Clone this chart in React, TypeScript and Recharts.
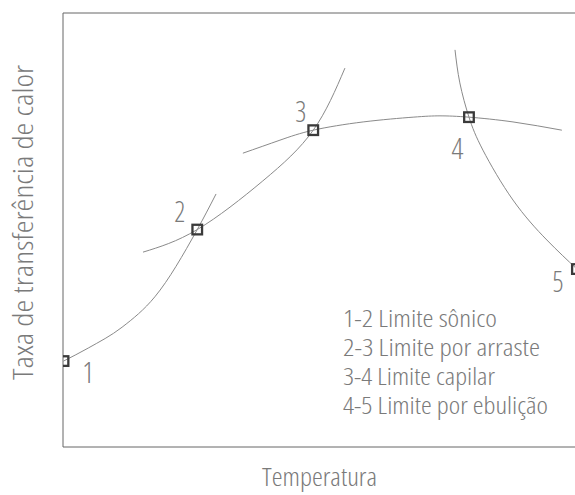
import React from 'react';
import { ComposedChart, Line, Scatter, XAxis, YAxis, ReferenceLine, Label } from 'recharts';

// Curves (x: temperature, y: heat transfer rate, arbitrary units 0-100)
const sonicLimit = [
  { x: 0.1, y: 19.8 }, { x: 4.7, y: 22.8 }, { x: 11.0, y: 27.6 }, { x: 17.1, y: 34.6 },
  { x: 25.0, y: 50.1 }, { x: 28.5, y: 58.3 },
];
const dragLimit = [
  { x: 14.9, y: 44.9 }, { x: 25.0, y: 50.1 }, { x: 37.2, y: 61.3 },
  { x: 46.6, y: 73.0 }, { x: 52.5, y: 87.3 },
];
const capillaryLimit = [
  { x: 33.5, y: 67.7 }, { x: 40.4, y: 70.7 }, { x: 46.6, y: 73.0 }, { x: 55.9, y: 74.9 },
  { x: 65.2, y: 76.0 }, { x: 70.2, y: 76.3 }, { x: 75.6, y: 76.0 }, { x: 83.8, y: 74.9 },
  { x: 92.9, y: 73.0 },
];
const boilingLimit = [
  { x: 73.0, y: 91.5 }, { x: 73.9, y: 83.9 }, { x: 75.6, y: 76.0 }, { x: 78.2, y: 68.4 },
  { x: 83.8, y: 56.9 }, { x: 90.1, y: 47.7 }, { x: 95.7, y: 41.0 },
];
const keyPoints = [
  { x: 0.1, y: 19.8, name: '1' },
  { x: 25.0, y: 50.1, name: '2' },
  { x: 46.6, y: 73.0, name: '3' },
  { x: 75.6, y: 76.0, name: '4' },
  { x: 95.7, y: 41.0, name: '5' },
];
const legendLines = [
  '1-2 Limite sônico',
  '2-3 Limite por arraste',
  '3-4 Limite capilar',
  '4-5 Limite por ebulição',
];
const xLabel = 'Temperatura';
const yLabel = 'Taxa de transferência de calor';

// styling
const FONT = "'Open Sans', sans-serif";
const TEXT_COLOR = '#7a7a7a';
const CURVE_COLOR = '#8a8a8a';
const AXIS_COLOR = '#666';
const labelOffsets: Record<string, { dx: number; dy: number; w?: number }> = {
  '1': { dx: 24.5, dy: 22 },
  '2': { dx: -17.5, dy: -8, w: 11 },
  '3': { dx: -12.5, dy: -8, w: 11 },
  '4': { dx: -11.5, dy: 42, w: 12 },
  '5': { dx: -19, dy: 23, w: 11 },
};
const legendWidths = [154, 197, 152, 205];
const legendBaselines = [327, 356, 385, 414];
const textStyle = { fontStretch: 'condensed' } as React.CSSProperties;

const PointShape = (props: any) => {
  const { cx, cy, payload } = props;
  const off = labelOffsets[payload.name];
  return (
    <g>
      <rect x={cx - 4.8} y={cy - 4.8} width={9.6} height={9.6} fill="none" stroke="#3a3a3a" strokeWidth={2.3} />
      <text
        x={cx + off.dx}
        y={cy + off.dy}
        textAnchor="middle"
        fontFamily={FONT}
        fontWeight={300}
        fontSize={29}
        fill={TEXT_COLOR}
        style={textStyle}
        {...(off.w ? { textLength: off.w, lengthAdjust: 'spacingAndGlyphs' } : {})}
      >
        {payload.name}
      </text>
    </g>
  );
};

export default function App() {
  return (
    <div style={{ position: 'fixed', left: 0, top: 0, width: 575, height: 495, overflow: 'hidden', background: '#fff' }}>
      <ComposedChart width={628} height={495} margin={{ top: 13, right: 28, left: 0, bottom: 0 }}>
        <XAxis
          type="number"
          dataKey="x"
          domain={[0, 100]}
          allowDataOverflow
          tick={false}
          tickLine={false}
          height={48}
          axisLine={{ stroke: AXIS_COLOR, strokeWidth: 1 }}
        >
          <Label
            content={() => (
              <text
                x={319.5}
                y={486}
                textAnchor="middle"
                fontFamily={FONT}
                fontWeight={300}
                fontSize={25}
                fill={TEXT_COLOR}
                style={textStyle}
                textLength={115}
                lengthAdjust="spacingAndGlyphs"
              >
                {xLabel}
              </text>
            )}
          />
        </XAxis>
        <YAxis
          type="number"
          dataKey="y"
          domain={[0, 100]}
          allowDataOverflow
          tick={false}
          tickLine={false}
          width={63}
          axisLine={{ stroke: AXIS_COLOR, strokeWidth: 1 }}
        >
          <Label
            content={() => (
              <text
                x={33}
                y={222.5}
                transform="rotate(-90, 33, 222.5)"
                textAnchor="middle"
                fontFamily={FONT}
                fontWeight={300}
                fontSize={28}
                fill={TEXT_COLOR}
                style={textStyle}
                textLength={315}
                lengthAdjust="spacingAndGlyphs"
              >
                {yLabel}
              </text>
            )}
          />
        </YAxis>
        <ReferenceLine y={100} stroke={AXIS_COLOR} strokeWidth={1} />
        <Line data={sonicLimit} dataKey="y" type="monotone" stroke={CURVE_COLOR} strokeWidth={1} dot={false} activeDot={false} isAnimationActive={false} />
        <Line data={dragLimit} dataKey="y" type="natural" stroke={CURVE_COLOR} strokeWidth={1} dot={false} activeDot={false} isAnimationActive={false} />
        <Line data={capillaryLimit} dataKey="y" type="natural" stroke={CURVE_COLOR} strokeWidth={1} dot={false} activeDot={false} isAnimationActive={false} />
        <Line data={boilingLimit} dataKey="y" type="natural" stroke={CURVE_COLOR} strokeWidth={1} dot={false} activeDot={false} isAnimationActive={false} />
        <Scatter data={keyPoints} dataKey="y" shape={PointShape} isAnimationActive={false} />
        <g>
          {legendLines.map((t, i) => (
            <text
              key={t}
              x={343}
              y={legendBaselines[i]}
              fontFamily={FONT}
              fontWeight={300}
              fontSize={23}
              fill={TEXT_COLOR}
              style={textStyle}
              textLength={legendWidths[i]}
              lengthAdjust="spacingAndGlyphs"
            >
              {t}
            </text>
          ))}
        </g>
      </ComposedChart>
    </div>
  );
}
